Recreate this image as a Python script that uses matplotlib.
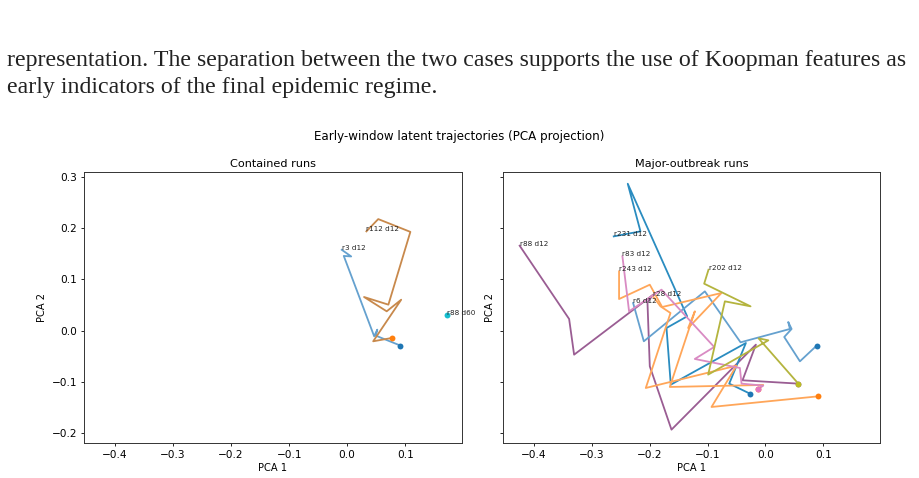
import matplotlib.pyplot as plt

# text of the page above the figure
para_lines = [
    "representation. The separation between the two cases supports the use of Koopman features as",
    "early indicators of the final epidemic regime.",
]

suptitle = "Early-window latent trajectories (PCA projection)"
panel_titles = ["Contained runs", "Major-outbreak runs"]

# trajectories, listed from the day-12 label point back to the start dot
contained_labels = ["r3 d12", "r112 d12", "r88 d60"]
contained_pc1 = [
    [-0.0093, 0.007, -0.0058, 0.0466, 0.052, 0.0495, 0.0915],
    [0.0332, 0.0536, 0.109, 0.0711, 0.0291, 0.0682, 0.0932, 0.0449, 0.0769],
    [0.172],
]
contained_pc2 = [
    [0.158, 0.145, 0.146, -0.011, 0.002, -0.0098, -0.029],
    [0.194, 0.218, 0.193, 0.0508, 0.0658, 0.0378, 0.0605, -0.0208, -0.0143],
    [0.031],
]

major_labels = ["r88 d12", "r231 d12", "r6 d12", "r243 d12", "r28 d12", "r83 d12", "r202 d12"]
major_pc1 = [
    [-0.4248, -0.3393, -0.3307, -0.1941, -0.2039, -0.1999, -0.1624, -0.0165, -0.0396, 0.0568],
    [-0.2622, -0.216, -0.238, -0.1353, -0.171, -0.1636, -0.0338, -0.0626, -0.0269],
    [-0.2287, -0.2102, -0.1047, -0.043, 0.0423, 0.0394, 0.0452, 0.0325, 0.0596, 0.0885],
    [-0.253, -0.253, -0.1999, -0.1785, -0.076, -0.1336, -0.122, -0.1653, -0.0038, -0.0125],
    [-0.1952, -0.1814, -0.1641, -0.2068, -0.0499, -0.0932, 0.0913],
    [-0.2472, -0.2357, -0.1797, -0.0886, -0.1221, -0.0442, -0.0413, -0.0038, -0.0125],
    [-0.0984, -0.1059, -0.0257, -0.0701, -0.099, 0.005, -0.0119, 0.0568],
]
major_pc2 = [
    [0.166, 0.0228, -0.0469, 0.0703, 0.0553, -0.0697, -0.1934, -0.0273, -0.097, -0.1035],
    [0.1842, 0.194, 0.2871, 0.028, 0.0052, -0.1055, -0.0241, -0.1035, -0.123],
    [0.054, -0.0208, 0.0768, -0.0228, 0.0033, 0.0169, 0.0033, -0.0124, -0.0599, -0.0293],
    [0.1159, 0.0618, 0.0898, 0.0462, 0.0736, 0.0052, 0.0378, -0.110, -0.1061, -0.1139],
    [0.0684, 0.0475, 0.0345, -0.112, -0.0684, -0.1491, -0.1283],
    [0.1452, 0.0378, 0.0801, -0.0319, -0.0553, -0.0729, -0.1035, -0.1074, -0.1139],
    [0.1191, 0.0918, 0.0475, 0.0573, -0.0859, -0.0189, -0.015, -0.1035],
]

# styles
contained_line_cols = ["#65a1cf", "#c8894c", "#17becf"]
contained_dot_cols = ["#1f77b4", "#ff7f0e", "#17becf"]
major_line_cols = ["#9a5d93", "#2a8cc0", "#65a1cf", "#ffa659", "#ffa659", "#d98bc3", "#b4b43e"]
major_dot_cols = ["#9467bd", "#1f77b4", "#1f77b4", "#ff7f0e", "#ff7f0e", "#e377c2", "#bcbd22"]


def draw_panel(ax, labels, pc1, pc2, line_cols, dot_cols):
    for lab, xs, ys, lc, dc in zip(labels, pc1, pc2, line_cols, dot_cols):
        ax.plot(xs, ys, color=lc, lw=1.3)
        ax.scatter(xs[-1], ys[-1], color=dc, s=18, zorder=3, linewidths=0)
        ax.text(xs[0], ys[0], lab, fontsize=5.2, color="#222222")


fig = plt.figure(figsize=(9.19, 4.78), dpi=100)

# paragraph lines, scaled to the page width
t1 = fig.text(7 / 919, 1 - 66 / 478, para_lines[0], family="Liberation Serif",
              fontsize=15, color="#222222", va="baseline")
fig.canvas.draw()
size = 15 * 906 / t1.get_window_extent().width
t1.set_fontsize(size)
fig.text(7 / 919, 1 - 93 / 478, para_lines[1], family="Liberation Serif",
         fontsize=size, color="#222222", va="baseline")

ax1 = fig.add_axes([84 / 919, 1 - 443 / 478, 378 / 919, 271 / 478])
ax2 = fig.add_axes([503 / 919, 1 - 443 / 478, 377 / 919, 271 / 478], sharex=ax1, sharey=ax1)

draw_panel(ax1, contained_labels, contained_pc1, contained_pc2, contained_line_cols, contained_dot_cols)
draw_panel(ax2, major_labels, major_pc1, major_pc2, major_line_cols, major_dot_cols)

ax1.set_xlim(-0.4536, 0.198)
ax1.set_ylim(-0.2195, 0.31)

for ax, title in zip([ax1, ax2], panel_titles):
    ax.set_title(title, fontsize=8.1, pad=3.5)
    ax.set_xlabel("PCA 1", fontsize=7.1, labelpad=2.5)
    ax.set_ylabel("PCA 2", fontsize=7.1, labelpad=3)
    ax.tick_params(labelsize=7.6, length=2.5, width=0.6, pad=2.5)
    for sp in ax.spines.values():
        sp.set_linewidth(0.7)
        sp.set_color("#333333")
ax2.tick_params(labelleft=False)

fig.text(0.5, 1 - 136 / 478, suptitle, fontsize=8.6, ha="center", va="center")

fig.savefig("out.png", dpi=100)
